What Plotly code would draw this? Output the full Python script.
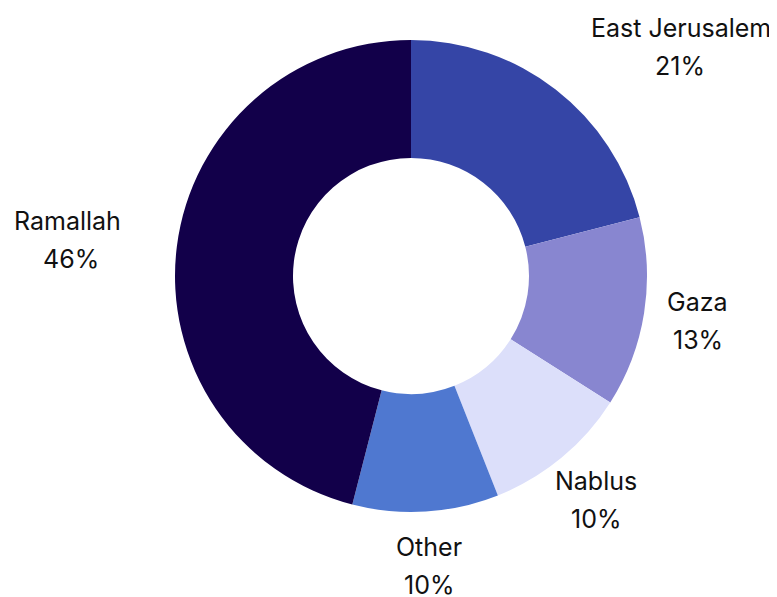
import math
import plotly.graph_objects as go

labels = ["East Jerusalem", "Gaza", "Nablus", "Other", "Ramallah"]
values = [21, 13, 10, 10, 46]
colors = ["#3545a6", "#8886d0", "#dcdffa", "#4f78d0", "#12004a"]

W, H = 777, 597
PAD = 8                      # page body margin that offsets the figure
cx, cy, R = 411 - PAD, 276 - PAD, 236   # pie centre / radius in figure px
label_r = 1.23 * R
anchors = ["left", "center", "center", "center", "right"]
FS = 25

fig = go.Figure(go.Pie(
    labels=labels, values=values, sort=False, direction="clockwise", rotation=0,
    hole=0.5, textinfo="none", hoverinfo="label+percent",
    marker=dict(colors=colors, line=dict(width=0)),
    domain=dict(x=[(cx - R) / W, (cx + R) / W], y=[(H - cy - R) / H, (H - cy + R) / H]),
    showlegend=False,
))

# labels outside each slice, placed at the slice's mid angle
total = sum(values)
cum = 0
font = dict(family="Inter, Lato, sans-serif", size=FS, color="#111111")
for lab, v, anc in zip(labels, values, anchors):
    mid = (cum + v / 2) / total * 2 * math.pi
    cum += v
    px = cx + label_r * math.sin(mid)
    py = cy - label_r * math.cos(mid)
    pct = f"{round(v / total * 100)}%"
    # rough width of the name, so the % line can sit centred under it
    half_w = 0.52 * FS * len(lab) / 2
    pct_x = px + {"left": half_w, "right": -half_w}.get(anc, 0)
    fig.add_annotation(x=px / W, y=1 - py / H, xref="paper", yref="paper",
                       text=lab, showarrow=False, xanchor=anc, yanchor="middle",
                       yshift=19, font=font)
    fig.add_annotation(x=pct_x / W, y=1 - py / H, xref="paper", yref="paper",
                       text=pct, showarrow=False, xanchor="center", yanchor="middle",
                       yshift=-19, font=font)
fig.update_layout(width=W, height=H, margin=dict(l=0, r=0, t=0, b=0),
                  paper_bgcolor="white", plot_bgcolor="white")
fig.write_html("out.html")
